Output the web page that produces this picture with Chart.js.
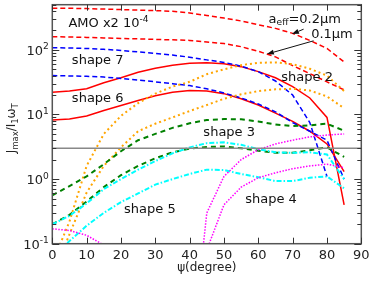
<!DOCTYPE html>
<html><head><meta charset="utf-8">
<script src="https://cdn.jsdelivr.net/npm/chart.js@4.4.0/dist/chart.umd.min.js"></script>
<style>html,body{margin:0;padding:0;background:#fff;}#wrap{width:374px;height:283px;}</style>
</head><body><div id="wrap"><canvas id="c" width="374" height="283"></canvas></div>
<script>
const angles = [0,5,10,15,20,25,30,35,40,45,50,55,60,65,70,75,80,85];
const amo02 = [442,440,435,428,420,412,405,395,372,340,310,280,245,215,180,140,105,65];
const amo01 = [160,158,156,153,150,148,145,143,140,132,125,112,95,78,57,43,32,24];
const shape7_02 = [108,107,105,102,98,93,88,83,77,70,64,56,46,33,20,7.5,1.1,null];
const shape7_01 = [40,39.5,39,38,36,34,32,30,28,25,21.5,18,14.5,11,7.5,5.5,4,1.0];
const shape6_02 = [22,23,25,31,37,45,52,58,62,63,61,55,46,37,27,18,9,0.4];
const shape6_01 = [8.2,8.5,9.5,11.5,13.8,16.5,19.5,22,23.5,23,21,17.5,14,10.5,7.8,5.5,3.5,1.3];
const shape2_02 = [0.05,0.22,1.6,5,9.5,15,21,27,32,42,50,58,63,64,60,51,40,23];
const shape2_01 = [0.03,0.14,0.62,1.6,3.1,5.5,7.2,9,11.3,14,17.5,20.5,23,24.5,25,23.5,19,12.5];
const shape3_02 = [0.56,0.78,1.1,1.7,2.7,4,5,6.2,7.3,8.2,8.5,8.4,7.8,7,6.6,6.8,7.2,5.6];
const shape3_01 = [0.2,0.28,0.45,0.75,1.15,1.6,2.1,2.6,2.95,3.15,3.2,3.0,2.75,2.55,2.55,2.8,3.1,2.2];
const shape5_02 = [0.2,0.27,0.42,0.7,1.0,1.4,1.9,2.5,3.1,3.6,3.7,3.4,2.9,2.6,2.55,2.6,2.4,1.0];
const shape5_01 = [0.06,0.11,0.19,0.3,0.44,0.6,0.82,1.0,1.2,1.4,1.38,1.2,1.07,0.93,0.93,1.05,1.1,0.72];
const shape4_02 = [0.17,0.16,0.135,0.095,0.06,0.03,0.012,0.004,0.001,0.3,1.1,2.0,2.85,3.5,4.0,4.5,4.8,5.0];
const shape4_01 = [null,null,null,null,null,null,null,null,0.0005,0.08,0.4,0.75,1.05,1.25,1.45,1.6,1.7,1.5];
const refX = [0,90];
const refY = [3,3];
const xTicks = [0,10,20,30,40,50,60,70,80,90];
const yDecades = [-1,0,1,2];

const FONT = '"DejaVu Sans", sans-serif';
function pts(xs, ys){ const out=[]; xs.forEach((x,i)=>{ if(ys[i]!==null) out.push({x:x,y:ys[i]}); }); return out; }
function ds(data, color, dash, width){ return {data:pts(angles,data), borderColor:color, borderDash:dash, borderWidth:width||1.5, pointRadius:0, fill:false, tension:0}; }

const datasets = [
  {data:pts(refX,refY), borderColor:'#888888', borderWidth:1.5, pointRadius:0, fill:false},
  ds(shape4_02,'#ff00ff',[1.5,1.5],1.5),
  ds(shape4_01,'#ff00ff',[1.5,1.5],1.5),
  ds(shape5_02,'#00ffff',[5,2,1.5,2],2),
  ds(shape5_01,'#00ffff',[5,2,1.5,2],2),
  ds(shape3_02,'#008000',[5,4],2),
  ds(shape3_01,'#008000',[5,4],2),
  ds(shape2_02,'#ffa500',[2,3],2),
  ds(shape2_01,'#ffa500',[2,3],2),
  ds(shape7_02,'#0000ff',[5,3],1.5),
  ds(shape7_01,'#0000ff',[5,3],1.5),
  ds(shape6_02,'#ff0000',[],1.5),
  ds(shape6_01,'#ff0000',[],1.5),
  ds(amo02,'#ff0000',[5,3],1.5),
  ds(amo01,'#ff0000',[5,3],1.5)
];

// annotations in data coordinates
const labels = [
  {x:4.7, y:222, parts:[['AMO x2 10',0],['-4',1]]},
  {x:5.7, y:61, parts:[['shape 7',0]]},
  {x:5.7, y:15.8, parts:[['shape 6',0]]},
  {x:66.7, y:32.5, parts:[['shape 2',0]]},
  {x:44, y:4.6, parts:[['shape 3',0]]},
  {x:20.9, y:0.3, parts:[['shape 5',0]]},
  {x:56.2, y:0.426, parts:[['shape 4',0]]},
  {x:63, y:265, parts:[['a',0],['eff',-1],['=0.2μm',0]]},
  {x:75.4, y:155, parts:[['0.1μm',0]]}
];
const arrows = [
  {x0:73.2, y0:209, x1:69.8, y1:176},
  {x0:76.1, y0:138, x1:62.5, y1:86}
];

function drawParts(ctx, parts, x, y, size, align){
  const small = size*0.7;
  let w = 0;
  parts.forEach(p=>{ ctx.font = (p[1]?small:size)+'px '+FONT; w += ctx.measureText(p[0]).width; });
  let cx = align==='center' ? x - w/2 : (align==='right' ? x - w : x);
  ctx.textAlign='left'; ctx.textBaseline='alphabetic';
  parts.forEach(p=>{
    const s = p[1]?small:size;
    ctx.font = s+'px '+FONT;
    const dy = p[1]===1 ? -size*0.42 : (p[1]===-1 ? size*0.22 : 0);
    ctx.fillText(p[0], cx, y+dy);
    cx += ctx.measureText(p[0]).width;
  });
}

const framePlugin = {
  id:'frame',
  afterDatasetsDraw(chart){
    const ctx = chart.ctx, a = chart.chartArea, xs = chart.scales.x, ys = chart.scales.y;
    ctx.save();
    ctx.fillStyle = '#111';
    labels.forEach(l=>drawParts(ctx, l.parts, xs.getPixelForValue(l.x), ys.getPixelForValue(l.y), 13, 'left'));
    ctx.strokeStyle='#111'; ctx.fillStyle='#111'; ctx.lineWidth=1;
    arrows.forEach(r=>{
      const x0=xs.getPixelForValue(r.x0), y0=ys.getPixelForValue(r.y0), x1=xs.getPixelForValue(r.x1), y1=ys.getPixelForValue(r.y1);
      const ang=Math.atan2(y1-y0,x1-x0), hl=7, hw=2.5;
      const bx=x1-hl*Math.cos(ang), by=y1-hl*Math.sin(ang);
      ctx.beginPath(); ctx.moveTo(x0,y0); ctx.lineTo(bx,by); ctx.stroke();
      ctx.beginPath(); ctx.moveTo(x1,y1);
      ctx.lineTo(bx+hw*Math.sin(ang), by-hw*Math.cos(ang));
      ctx.lineTo(bx-hw*Math.sin(ang), by+hw*Math.cos(ang));
      ctx.closePath(); ctx.fill();
    });
    ctx.strokeStyle='#555'; ctx.lineWidth=1.5;
    ctx.strokeRect(a.left, a.top, a.right-a.left, a.bottom-a.top);
    ctx.strokeStyle='#333'; ctx.lineWidth=1;
    xTicks.forEach(v=>{
      const px = Math.round(xs.getPixelForValue(v))+0.5;
      ctx.beginPath(); ctx.moveTo(px,a.bottom); ctx.lineTo(px,a.bottom-6);
      ctx.moveTo(px,a.top); ctx.lineTo(px,a.top+6); ctx.stroke();
    });
    yDecades.forEach(d=>{
      for(let m=1;m<=9;m++){
        const v=m*Math.pow(10,d);
        if(v<ys.min-1e-9||v>ys.max) continue;
        const py=Math.round(ys.getPixelForValue(v))+0.5, L = m===1?7:4;
        ctx.beginPath(); ctx.moveTo(a.left,py); ctx.lineTo(a.left+L,py);
        ctx.moveTo(a.right,py); ctx.lineTo(a.right-L,py); ctx.stroke();
      }
    });
    ctx.fillStyle='#222';
    yDecades.forEach(d=>{
      const py = ys.getPixelForValue(Math.pow(10,d));
      drawParts(ctx, [['10',0],[String(d),1]], a.left-3.5, py+5, 13, 'right');
    });
    ctx.fillStyle='#222';
    drawParts(ctx, [['ψ',0],['(degree)',0]], (a.left+a.right)/2, 271, 12, 'center');
    ctx.translate(15, (a.top+a.bottom)/2 + 4);
    ctx.rotate(-Math.PI/2);
    drawParts(ctx, [['J',0],['max',-1],['/I',0],['1',-1],['ω',0],['T',-1]], 0, 0, 12, 'center');
    ctx.restore();
  }
};

new Chart(document.getElementById('c'), {
  type:'line',
  data:{datasets:datasets},
  options:{
    responsive:false, animation:false, devicePixelRatio:1,
    layout:{padding:{left:0,right:12.7,top:4.7,bottom:0}},
    plugins:{legend:{display:false}, tooltip:{enabled:false}},
    scales:{
      x:{type:'linear', min:0, max:90,
        afterBuildTicks:s=>{ s.ticks = xTicks.map(v=>({value:v})); },
        afterFit:s=>{ s.height = 39.3; },
        grid:{display:false, drawTicks:false}, border:{display:false},
        ticks:{font:{family:FONT,size:13}, color:'#222', padding:4, maxRotation:0, autoSkip:false}},
      y:{type:'logarithmic', min:0.1, max:500,
        afterFit:s=>{ s.width = 52.3; },
        grid:{display:false, drawTicks:false}, border:{display:false},
        ticks:{display:false}}
    }
  },
  plugins:[framePlugin]
});
</script></body></html>
